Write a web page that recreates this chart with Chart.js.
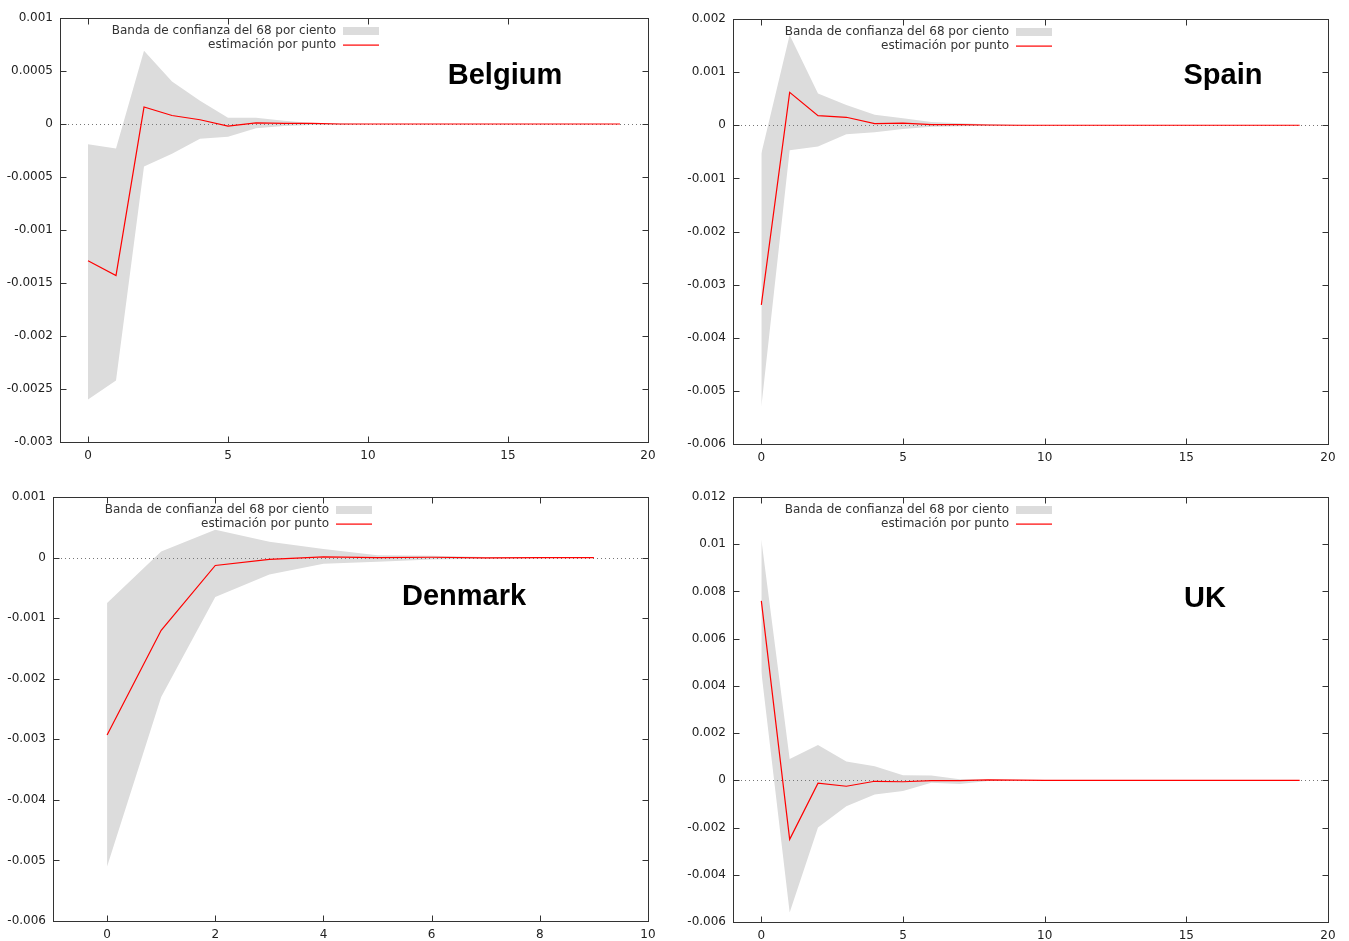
<!DOCTYPE html>
<html>
<head>
<meta charset="utf-8">
<script src="https://cdn.jsdelivr.net/npm/chart.js@4/dist/chart.umd.min.js"></script>
<style>
  body { margin: 0; background: #fff; }
  #wrap { position: relative; width: 1349px; height: 941px; overflow: hidden; }
  canvas { position: absolute; }
</style>
</head>
<body>
<div id="wrap"></div>
<script>
// horizons
var horizon20 = [0, 1, 2, 3, 4, 5, 6, 7, 8, 9, 10, 11, 12, 13, 14, 15, 16, 17, 18, 19];
var horizon10 = [0, 1, 2, 3, 4, 5, 6, 7, 8, 9];

// Belgium
var belgiumPoint = [-0.00129, -0.00143, 0.00016, 0.00008, 0.00004, -0.00002, 0.00001, 0.000005, 0.000005, 0, 0, 0, 0, 0, 0, 0, 0, 0, 0, 0];
var belgiumUpper = [-0.00019, -0.00023, 0.00069, 0.0004, 0.00022, 0.00006, 0.00006, 0.00003, 0.00001, 0.000005, 0, 0, 0, 0, 0, 0, 0, 0, 0, 0];
var belgiumLower = [-0.0026, -0.00242, -0.0004, -0.00028, -0.00014, -0.00012, -0.00004, -0.00002, -0.00001, -0.000005, 0, 0, 0, 0, 0, 0, 0, 0, 0, 0];

// Spain
var spainPoint = [-0.00338, 0.00062, 0.00018, 0.00015, 0.00003, 0.00004, 0.00001, 0.00001, 0.000005, 0, 0, 0, 0, 0, 0, 0, 0, 0, 0, 0];
var spainUpper = [-0.00053, 0.0017, 0.0006, 0.00038, 0.0002, 0.00013, 0.00006, 0.00004, 0.00002, 0.00001, 0, 0, 0, 0, 0, 0, 0, 0, 0, 0];
var spainLower = [-0.0053, -0.00047, -0.0004, -0.00017, -0.00013, -0.00007, -0.00003, -0.00002, -0.00001, 0, 0, 0, 0, 0, 0, 0, 0, 0, 0, 0];

// Denmark
var denmarkPoint = [-0.00293, -0.0012, -0.00013, -0.00003, 0.00001, 0, 0.000005, -0.000005, 0, 0];
var denmarkUpper = [-0.00075, 0.0001, 0.00046, 0.00026, 0.00014, 0.00004, 0.00003, 0.00001, 0.000005, 0];
var denmarkLower = [-0.0051, -0.0023, -0.00065, -0.00028, -0.0001, -0.00007, -0.00003, -0.00002, -0.00001, 0];

// UK
var ukPoint = [0.0076, -0.0025, -0.00012, -0.00025, -0.00004, -0.00006, -0.00001, -0.00001, 0.00002, 0.00001, 0, 0, 0, 0, 0, 0, 0, 0, 0, 0];
var ukUpper = [0.0102, 0.0009, 0.0015, 0.0008, 0.0006, 0.00022, 0.0002, 0.00005, 0.00004, 0.00002, 0.00001, 0, 0, 0, 0, 0, 0, 0, 0, 0];
var ukLower = [0.0046, -0.0056, -0.002, -0.0011, -0.0006, -0.00045, -0.0001, -0.00015, -0.00003, -0.00001, 0, 0, 0, 0, 0, 0, 0, 0, 0, 0];

// tick values
var xTicks20 = [0, 5, 10, 15, 20];
var xTicks10 = [0, 2, 4, 6, 8, 10];
var yTicksBelgium = [-0.003, -0.0025, -0.002, -0.0015, -0.001, -0.0005, 0, 0.0005, 0.001];
var yTicksSpain = [-0.006, -0.005, -0.004, -0.003, -0.002, -0.001, 0, 0.001, 0.002];
var yTicksDenmark = [-0.006, -0.005, -0.004, -0.003, -0.002, -0.001, 0, 0.001];
var yTicksUK = [-0.006, -0.004, -0.002, 0, 0.002, 0.004, 0.006, 0.008, 0.01, 0.012];

var bandLabel = 'Banda de confianza del 68 por ciento';
var pointLabel = 'estimación por punto';

var panels = [
  { title: 'Belgium', area: [60, 18, 648, 442], titlePos: [505, 76], xMin: -1, xMax: 20, xTicks: xTicks20, yTicks: yTicksBelgium,
    horizon: horizon20, point: belgiumPoint, upper: belgiumUpper, lower: belgiumLower },
  { title: 'Spain', area: [733, 19, 1328, 444], titlePos: [1223, 76], xMin: -1, xMax: 20, xTicks: xTicks20, yTicks: yTicksSpain,
    horizon: horizon20, point: spainPoint, upper: spainUpper, lower: spainLower },
  { title: 'Denmark', area: [53, 497, 648, 921], titlePos: [464, 597], xMin: -1, xMax: 10, xTicks: xTicks10, yTicks: yTicksDenmark,
    horizon: horizon10, point: denmarkPoint, upper: denmarkUpper, lower: denmarkLower },
  { title: 'UK', area: [733, 497, 1328, 922], titlePos: [1205, 599], xMin: -1, xMax: 20, xTicks: xTicks20, yTicks: yTicksUK,
    horizon: horizon20, point: ukPoint, upper: ukUpper, lower: ukLower }
];

var AXIS_W = 70, AXIS_H = 30, PAD_T = 15, PAD_R = 15;
var tickFont = { family: 'DejaVu Sans', size: 12 };

function fmt(v) {
  return String(parseFloat(v.toPrecision(6)));
}

function pts(xs, ys) {
  return xs.map(function(x, i) { return { x: x, y: ys[i] }; });
}

// gnuplot-like frame, inward ticks, zero line, legend and title
var gnuplotFrame = {
  id: 'gnuplotFrame',
  beforeDatasetDraw: function(chart, args) {
    if (args.index !== 0) return; // just under the red line
    var a = chart.chartArea, ctx = chart.ctx;
    var y0 = Math.round(chart.scales.y.getPixelForValue(0)) + 0.5;
    ctx.save();
    ctx.strokeStyle = '#777';
    ctx.lineWidth = 1;
    ctx.setLineDash([1, 3]);
    ctx.beginPath();
    ctx.moveTo(a.left, y0);
    ctx.lineTo(a.right, y0);
    ctx.stroke();
    ctx.restore();
  },
  afterDraw: function(chart, args, opts) {
    var a = chart.chartArea, ctx = chart.ctx;
    var sx = chart.scales.x, sy = chart.scales.y;
    var L = Math.round(a.left) + 0.5, R = Math.round(a.right) + 0.5;
    var T = Math.round(a.top) + 0.5, B = Math.round(a.bottom) + 0.5;
    ctx.save();
    ctx.setLineDash([]);
    ctx.strokeStyle = '#333';
    ctx.lineWidth = 1;
    ctx.strokeRect(L, T, R - L, B - T);
    ctx.beginPath();
    sx.ticks.forEach(function(t) {
      var px = Math.round(sx.getPixelForValue(t.value)) + 0.5;
      ctx.moveTo(px, B); ctx.lineTo(px, B - 6);
      ctx.moveTo(px, T); ctx.lineTo(px, T + 6);
    });
    sy.ticks.forEach(function(t) {
      var py = Math.round(sy.getPixelForValue(t.value)) + 0.5;
      ctx.moveTo(L, py); ctx.lineTo(L + 6, py);
      ctx.moveTo(R, py); ctx.lineTo(R - 6, py);
    });
    ctx.stroke();

    // legend
    var lx = a.left + 276;
    ctx.font = '12px "DejaVu Sans"';
    ctx.fillStyle = '#333';
    ctx.textAlign = 'right';
    ctx.textBaseline = 'middle';
    ctx.fillText(bandLabel, lx, a.top + 13);
    ctx.fillText(pointLabel, lx, a.top + 27);
    ctx.fillStyle = '#dcdcdc';
    ctx.fillRect(a.left + 283, a.top + 9, 36, 8);
    ctx.fillStyle = '#ff0000';
    ctx.fillRect(a.left + 283, a.top + 26.5, 36, 1.2);

    // title
    ctx.font = 'bold 29px "Liberation Sans", Arial, sans-serif';
    ctx.fillStyle = '#000';
    ctx.textAlign = 'center';
    ctx.fillText(opts.title, opts.tx - chart.canvas.offsetLeft, opts.ty - chart.canvas.offsetTop);
    ctx.restore();
  }
};

var wrap = document.getElementById('wrap');

panels.forEach(function(p) {
  var c = document.createElement('canvas');
  var left = p.area[0] - AXIS_W, top = p.area[1] - PAD_T;
  var w = (p.area[2] - p.area[0]) + AXIS_W + PAD_R;
  var h = (p.area[3] - p.area[1]) + PAD_T + AXIS_H;
  c.width = w; c.height = h;
  c.style.left = left + 'px'; c.style.top = top + 'px';
  c.style.width = w + 'px'; c.style.height = h + 'px';
  wrap.appendChild(c);

  new Chart(c.getContext('2d'), {
    type: 'line',
    data: {
      datasets: [
        { label: pointLabel, data: pts(p.horizon, p.point), borderColor: '#ff0000', borderWidth: 1.2,
          pointRadius: 0, fill: false, tension: 0 },
        { label: 'upper', data: pts(p.horizon, p.upper), borderWidth: 0, pointRadius: 0, fill: false, tension: 0 },
        { label: bandLabel, data: pts(p.horizon, p.lower), borderWidth: 0, pointRadius: 0, fill: '-1',
          backgroundColor: '#dcdcdc', tension: 0 }
      ]
    },
    options: {
      responsive: false,
      animation: false,
      devicePixelRatio: 1,
      layout: { padding: { top: PAD_T, right: PAD_R, left: 0, bottom: 0 } },
      plugins: {
        legend: { display: false },
        tooltip: { enabled: false },
        gnuplotFrame: { title: p.title, tx: p.titlePos[0], ty: p.titlePos[1] }
      },
      scales: {
        x: {
          type: 'linear', min: p.xMin, max: p.xMax,
          afterBuildTicks: function(s) { s.ticks = p.xTicks.map(function(v) { return { value: v }; }); },
          afterFit: function(s) { s.height = AXIS_H; },
          grid: { display: false, drawTicks: false }, border: { display: false },
          ticks: { font: tickFont, color: '#222', padding: 7, maxRotation: 0, autoSkip: false,
                    callback: function(v) { return fmt(v); } }
        },
        y: {
          min: p.yTicks[0], max: p.yTicks[p.yTicks.length - 1],
          afterBuildTicks: function(s) { s.ticks = p.yTicks.map(function(v) { return { value: v }; }); },
          afterFit: function(s) { s.width = AXIS_W; },
          grid: { display: false, drawTicks: false }, border: { display: false },
          ticks: { font: tickFont, color: '#222', padding: 7, autoSkip: false,
                   callback: function(v) { return fmt(v); } }
        }
      }
    },
    plugins: [gnuplotFrame]
  });
});
</script>
</body>
</html>
